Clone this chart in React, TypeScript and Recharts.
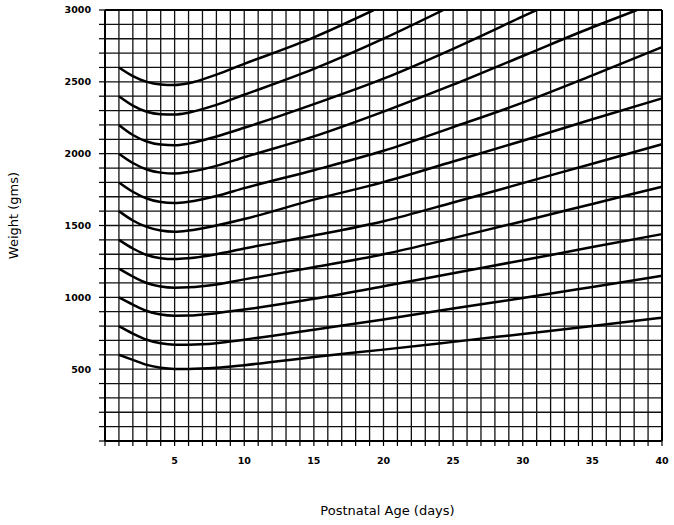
import React from 'react';
import { LineChart, Line, XAxis, YAxis, CartesianGrid, ReferenceLine, Label } from 'recharts';

// Birth-weight curves: [postnatal day, weight in grams]
const curve600: [number, number][] = [[1, 600], [2, 565], [3, 530], [4, 510], [5, 502], [6, 502], [8, 510], [10, 528], [15, 585], [20, 636], [25, 690], [30, 745], [35, 800], [40, 858]];
const curve800: [number, number][] = [[1, 800], [2, 748], [3, 705], [4, 680], [5, 670], [6, 670], [8, 680], [10, 705], [15, 775], [20, 846], [25, 922], [30, 995], [35, 1072], [40, 1150]];
const curve1000: [number, number][] = [[1, 1000], [2, 950], [3, 905], [4, 880], [5, 872], [6, 873], [8, 890], [10, 915], [15, 990], [20, 1077], [25, 1168], [30, 1258], [35, 1350], [40, 1440]];
const curve1200: [number, number][] = [[1, 1200], [2, 1145], [3, 1100], [4, 1075], [5, 1067], [6, 1070], [8, 1090], [10, 1125], [15, 1210], [20, 1300], [25, 1412], [30, 1530], [35, 1650], [40, 1770]];
const curve1400: [number, number][] = [[1, 1400], [2, 1340], [3, 1295], [4, 1272], [5, 1266], [6, 1272], [8, 1300], [10, 1340], [15, 1430], [20, 1530], [25, 1660], [30, 1795], [35, 1930], [40, 2065]];
const curve1600: [number, number][] = [[1, 1600], [2, 1535], [3, 1490], [4, 1465], [5, 1457], [6, 1465], [8, 1500], [10, 1545], [15, 1680], [20, 1802], [25, 1945], [30, 2090], [35, 2240], [40, 2385]];
const curve1800: [number, number][] = [[1, 1800], [2, 1735], [3, 1688], [4, 1663], [5, 1656], [6, 1665], [8, 1705], [10, 1760], [15, 1885], [20, 2020], [25, 2185], [30, 2355], [35, 2545], [40, 2742]];
const curve2000: [number, number][] = [[1, 2000], [2, 1935], [3, 1890], [4, 1868], [5, 1862], [6, 1872], [8, 1915], [10, 1975], [15, 2120], [20, 2293], [25, 2480], [30, 2680], [35, 2880], [38.2, 3000]];
const curve2200: [number, number][] = [[1, 2200], [2, 2130], [3, 2085], [4, 2063], [5, 2058], [6, 2070], [8, 2120], [10, 2180], [15, 2345], [20, 2522], [25, 2730], [30, 2955], [31, 3000]];
const curve2400: [number, number][] = [[1, 2400], [2, 2335], [3, 2292], [4, 2275], [5, 2272], [6, 2285], [8, 2340], [10, 2410], [15, 2590], [20, 2800], [24.3, 3000]];
const curve2600: [number, number][] = [[1, 2600], [2, 2540], [3, 2500], [4, 2482], [5, 2478], [6, 2490], [8, 2550], [10, 2625], [15, 2810], [19.3, 3000]];

const curves = [curve600, curve800, curve1000, curve1200, curve1400, curve1600, curve1800, curve2000, curve2200, curve2400, curve2600];

// Axis labels
const dayLabels = [5, 10, 15, 20, 25, 30, 35, 40];
const weightLabels = [500, 1000, 1500, 2000, 2500, 3000];

// One grid line per day and per 100 g
const dayTicks = Array.from({ length: 41 }, (_, i) => i);
const weightTicks = Array.from({ length: 31 }, (_, i) => i * 100);

const tickStyle = { fill: '#000', fontSize: 9.5, fontWeight: 700, fontFamily: 'DejaVu Sans' };
const titleFont = 'DejaVu Sans';

export default function App() {
  return (
    <div style={{ position: 'absolute', left: 0, top: 0, background: '#fff' }}>
      <LineChart width={674} height={525} margin={{ top: 10, right: 12, bottom: 0, left: 0 }}>
        <CartesianGrid stroke="#111" strokeWidth={1.3} />
        <XAxis
          type="number"
          dataKey="day"
          domain={[0, 40]}
          ticks={dayTicks}
          interval={0}
          allowDecimals={false}
          height={84}
          tickSize={5}
          tickMargin={11}
          tick={tickStyle}
          tickLine={{ stroke: '#000', strokeWidth: 1.2 }}
          axisLine={{ stroke: '#000', strokeWidth: 2 }}
          tickFormatter={(v: number) => (dayLabels.includes(v) ? String(v) : '')}
        >
          <Label
            content={({ viewBox }: any) => (
              <text
                x={viewBox.x + viewBox.width / 2 + 4}
                y={515}
                textAnchor="middle"
                fontFamily={titleFont}
                fontSize={13}
                fill="#000"
              >
                Postnatal Age (days)
              </text>
            )}
          />
        </XAxis>
        <YAxis
          type="number"
          domain={[0, 3000]}
          ticks={weightTicks}
          interval={0}
          width={105}
          tickSize={6}
          tickMargin={8}
          tick={tickStyle}
          tickLine={{ stroke: '#000', strokeWidth: 1.2 }}
          axisLine={{ stroke: '#000', strokeWidth: 2 }}
          allowDataOverflow
          tickFormatter={(v: number) => (weightLabels.includes(v) ? String(v) : '')}
        >
          <Label
            content={({ viewBox }: any) => {
              const cx = 13;
              const cy = viewBox.y + viewBox.height / 2 - 10;
              return (
                <text
                  x={cx}
                  y={cy}
                  transform={`rotate(-90, ${cx}, ${cy})`}
                  textAnchor="middle"
                  dominantBaseline="central"
                  fontFamily={titleFont}
                  fontSize={13}
                  fill="#000"
                >
                  Weight (gms)
                </text>
              );
            }}
          />
        </YAxis>
        <ReferenceLine x={40} stroke="#000" strokeWidth={2} ifOverflow="extendDomain" />
        <ReferenceLine y={3000} stroke="#000" strokeWidth={2} />
        {curves.map((pts, i) => (
          <Line
            key={i}
            data={pts.map(([day, weight]) => ({ day, weight }))}
            dataKey="weight"
            type="monotone"
            stroke="#000"
            strokeWidth={2.5}
            dot={false}
            activeDot={false}
            isAnimationActive={false}
          />
        ))}
      </LineChart>
    </div>
  );
}
